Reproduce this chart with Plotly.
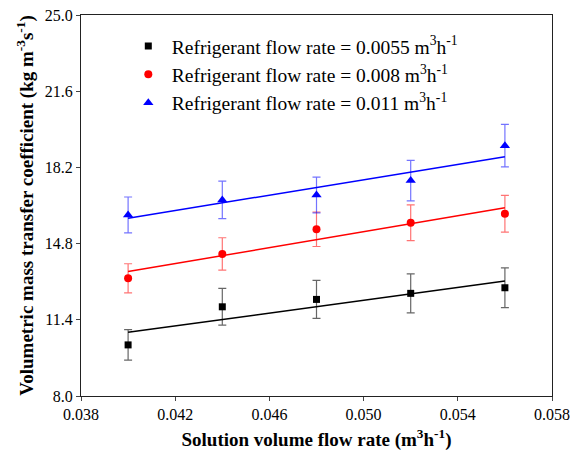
import plotly.graph_objects as go

x = [0.040, 0.044, 0.048, 0.052, 0.056]
fit_x = [0.040, 0.056]

names = ["Refrigerant flow rate = 0.0055 m<sup>3</sup>h<sup>-1</sup>",
         "Refrigerant flow rate = 0.008 m<sup>3</sup>h<sup>-1</sup>",
         "Refrigerant flow rate = 0.011 m<sup>3</sup>h<sup>-1</sup>"]

y_black = [10.28, 11.98, 12.31, 12.58, 12.83]
err_black = [0.68, 0.82, 0.85, 0.87, 0.89]
fit_black = [10.84, 13.13]

y_red = [13.25, 14.34, 15.44, 15.73, 16.13]
err_red = [0.65, 0.72, 0.77, 0.80, 0.82]
fit_red = [13.55, 16.40]

y_blue = [16.08, 16.75, 16.97, 17.61, 19.17]
err_blue = [0.80, 0.84, 0.80, 0.90, 0.95]
fit_blue = [15.93, 18.68]

x_ticks = [0.038, 0.042, 0.046, 0.050, 0.054, 0.058]
y_ticks = [8.0, 11.4, 14.8, 18.2, 21.6, 25.0]

series = [
    (y_black, err_black, fit_black, "#000000", "rgba(0,0,0,0.6)", "square", 7),
    (y_red, err_red, fit_red, "#ff0000", "rgba(255,0,0,0.55)", "circle", 8),
    (y_blue, err_blue, fit_blue, "#0000ff", "rgba(0,0,255,0.55)", "triangle-up", 9),
]

fig = go.Figure()
for (yv, ev, fv, col, ecol, sym, sz), nm in zip(series, names):
    fig.add_trace(go.Scatter(x=fit_x, y=fv, mode="lines", line=dict(color=col, width=1.5),
                             showlegend=False, hoverinfo="skip"))
for (yv, ev, fv, col, ecol, sym, sz), nm in zip(series, names):
    fig.add_trace(go.Scatter(x=x, y=yv, mode="markers", name=nm,
                             marker=dict(symbol=sym, size=sz, color=col),
                             error_y=dict(type="data", array=ev, visible=True,
                                          color=ecol, thickness=1.2, width=4)))

font_family = "Liberation Serif"
fig.update_layout(
    width=571, height=454,
    margin=dict(l=81, r=19, t=15, b=58),
    paper_bgcolor="white", plot_bgcolor="white",
    font=dict(family=font_family, size=16, color="black"),
    legend=dict(x=0.093, y=0.969, xanchor="left", yanchor="top",
                bgcolor="rgba(0,0,0,0)", font=dict(size=19.5, family=font_family),
                tracegroupgap=0, itemwidth=37),
    xaxis=dict(range=[0.038, 0.058], tickvals=x_ticks, automargin=False,
               ticktext=[f"{v:.3f}" for v in x_ticks],
               showgrid=False, zeroline=False, showline=True, linecolor="#222",
               linewidth=1.3, mirror=True, ticks="outside", ticklen=4, tickwidth=1.2,
               tickfont=dict(size=16),
               title=dict(text="<b>Solution volume flow rate (m<sup>3</sup>h<sup>-1</sup>)</b>",
                          font=dict(size=19), standoff=10)),
    yaxis=dict(range=[8.0, 25.0], tickvals=y_ticks, automargin=False,
               ticktext=[f"{v:.1f}" for v in y_ticks],
               showgrid=False, zeroline=False, showline=True, linecolor="#222",
               linewidth=1.3, mirror=True, ticks="outside", ticklen=4, tickwidth=1.2,
               tickfont=dict(size=16),
               title=dict(text="<b>Volumetric mass transfer coefficient (kg m<sup>-3</sup>s<sup>-1</sup>)</b>",
                          font=dict(size=19), standoff=6)),
)

fig.write_html("out.html", config={"displayModeBar": False},
               post_script="document.body.style.margin='0px';")
